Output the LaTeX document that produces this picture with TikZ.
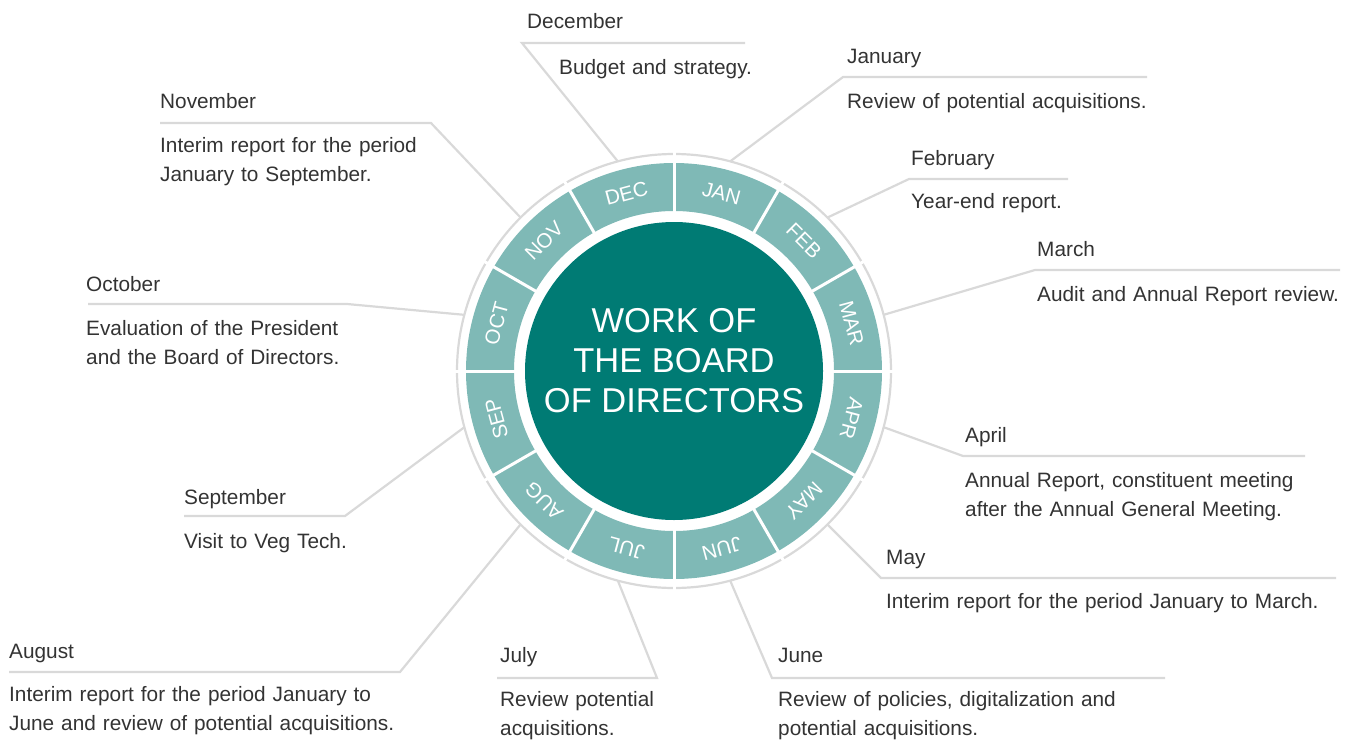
\documentclass[tikz,border=0pt]{standalone}
\usepackage{fontspec}
\setmainfont{Liberation Sans}
\usetikzlibrary{calc}
\definecolor{hubc}{HTML}{007B74}
\definecolor{ringc}{HTML}{7FB9B6}
\definecolor{linegray}{HTML}{D9D9D9}
\definecolor{txt}{HTML}{333333}
\tikzset{
  lead/.style={draw=linegray, line width=2.2pt, line join=miter},
  ttl/.style={anchor=base west, inner sep=0pt, text=txt, font=\fontsize{20.8}{29}\selectfont},
  dsc/.style={anchor=base west, inner sep=0pt, text=txt, align=left, text width=480pt, font=\fontsize{20.8}{29}\selectfont},
  mon/.style={inner sep=0pt, text=white, text height=14.5pt, text depth=0pt, font=\fontsize{20.5}{20.5}\selectfont},
}
\begin{document}
\begin{tikzpicture}[x=1pt,y=-1pt]
\useasboundingbox (0,0) rectangle (1352,739);
\coordinate (C) at (674,371);
% ring
\fill[ringc, even odd rule] (C) circle[radius=208] (C) circle[radius=160];
\draw[linegray, line width=2.2pt] (C) circle[radius=217];
\foreach \a in {0,30,...,330}
  \draw[white, line width=3pt] ($(C)+(\a:156)$) -- ($(C)+(\a:225)$);
% hub
\fill[hubc] (C) circle[radius=149];
\node[text=white, align=center, inner sep=0pt, font=\fontsize{34.5}{40}\selectfont] (hub) at (674,361) {WORK OF\\THE BOARD\\OF DIRECTORS};
% month labels in ring
\foreach \m/\a in {JAN/75, FEB/45, MAR/15, APR/-15, MAY/-45, JUN/-75, JUL/-105, AUG/-135, SEP/-165, OCT/165, NOV/135, DEC/105}{
  \node[mon, rotate=\a-90] (m\m) at ($(C)+(-\a:184)$) {\m};
  \coordinate (r\m) at ($(C)+(-\a:217)$);
}
% corners and line ends
\coordinate (kDEC) at (522,43);  \coordinate (eDEC) at (745,43);
\coordinate (kJAN) at (843,77);  \coordinate (eJAN) at (1147,77);
\coordinate (kFEB) at (909,179); \coordinate (eFEB) at (1068,179);
\coordinate (kMAR) at (1035,270); \coordinate (eMAR) at (1340,270);
\coordinate (kAPR) at (963,456); \coordinate (eAPR) at (1305,456);
\coordinate (kMAY) at (881,578); \coordinate (eMAY) at (1336,578);
\coordinate (kJUN) at (772,678); \coordinate (eJUN) at (1165,678);
\coordinate (kJUL) at (657,678); \coordinate (eJUL) at (497,678);
\coordinate (kAUG) at (400,672); \coordinate (eAUG) at (9,672);
\coordinate (kSEP) at (345,516); \coordinate (eSEP) at (184,516);
\coordinate (kOCT) at (347,304); \coordinate (eOCT) at (88,304);
\coordinate (kNOV) at (431,123); \coordinate (eNOV) at (160,123);
\foreach \m in {JAN,FEB,MAR,APR,MAY,JUN,JUL,AUG,SEP,OCT,NOV,DEC}
  \draw[lead] (r\m) -- (k\m) -- (e\m);
% texts
\node[ttl] (tDEC) at (527,28) {December};
\node[dsc] (dDEC) at (559,74) {Budget and strategy.};
\node[ttl] (tJAN) at (847,63) {January};
\node[dsc] (dJAN) at (847,108) {Review of potential acquisitions.};
\node[ttl] (tFEB) at (911,165) {February};
\node[dsc] (dFEB) at (911,208) {Year-end report.};
\node[ttl] (tMAR) at (1037,256) {March};
\node[dsc] (dMAR) at (1037,301) {Audit and Annual Report review.};
\node[ttl] (tAPR) at (965,442) {April};
\node[dsc] (dAPR) at (965,487) {Annual Report, constituent meeting\\after the Annual General Meeting.};
\node[ttl] (tMAY) at (886,564) {May};
\node[dsc] (dMAY) at (886,608) {Interim report for the period January to March.};
\node[ttl] (tJUN) at (778,662) {June};
\node[dsc] (dJUN) at (778,706) {Review of policies, digitalization and\\potential acquisitions.};
\node[ttl] (tJUL) at (500,662) {July};
\node[dsc] (dJUL) at (500,706) {Review potential\\acquisitions.};
\node[ttl] (tAUG) at (9,658) {August};
\node[dsc] (dAUG) at (9,701) {Interim report for the period January to\\June and review of potential acquisitions.};
\node[ttl] (tSEP) at (184,504) {September};
\node[dsc] (dSEP) at (184,548) {Visit to Veg Tech.};
\node[ttl] (tOCT) at (86,291) {October};
\node[dsc] (dOCT) at (86,335) {Evaluation of the President\\and the Board of Directors.};
\node[ttl] (tNOV) at (160,108) {November};
\node[dsc] (dNOV) at (160,152) {Interim report for the period\\January to September.};
\end{tikzpicture}
\end{document}
